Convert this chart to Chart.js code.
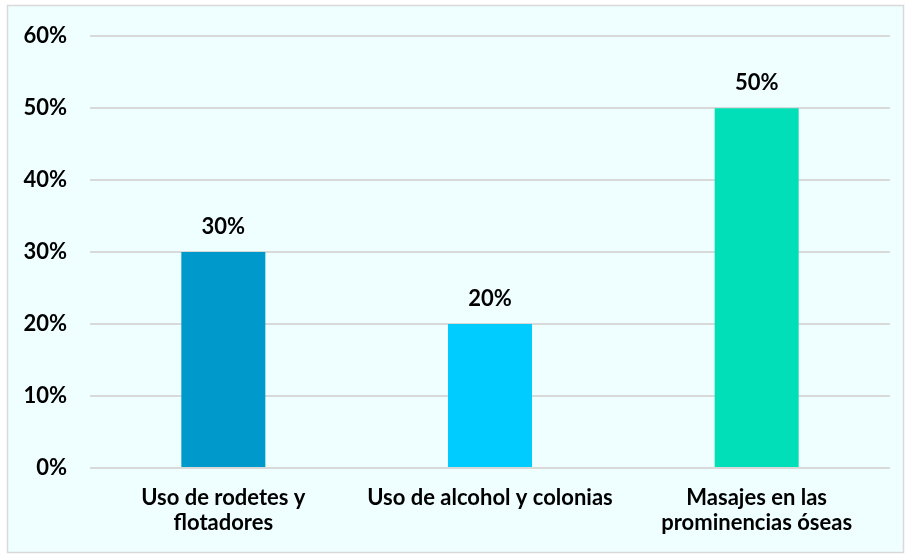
<!DOCTYPE html>
<html>
<head>
<meta charset="utf-8">
<script src="https://cdn.jsdelivr.net/npm/chart.js@4"></script>
<style>
  html, body { margin: 0; padding: 0; background: #ffffff; }
  #wrap { position: absolute; left: 0; top: 0; width: 907px; height: 558px; }
</style>
</head>
<body>
<div id="wrap"><canvas id="chart" width="907" height="558"></canvas></div>
<script>
// Data
const categories = [
    ['Uso de rodetes y', 'flotadores'],
    'Uso de alcohol y colonias',
    ['Masajes en las', 'prominencias óseas']
];
const values = [30, 20, 50];
const barColors = ['#0099CC', '#00CCFF', '#00DFB7'];
const yTicks = [0, 10, 20, 30, 40, 50, 60];

const FONT = 'Lato, "Open Sans", sans-serif';

// background + frame
const framePlugin = {
    id: 'frame',
    beforeDraw(chart) {
        const c = chart.ctx;
        c.save();
        c.fillStyle = '#EFFFFF';
        c.fillRect(7, 5, 897, 548);
        c.strokeStyle = '#D9D9D9';
        c.lineWidth = 1.5;
        c.strokeRect(7.5, 5.5, 896, 547);
        c.restore();
    }
};

// value labels above bars
const valueLabels = {
    id: 'valueLabels',
    afterDatasetsDraw(chart) {
        const c = chart.ctx;
        const meta = chart.getDatasetMeta(0);
        c.save();
        c.font = 'bold 22px ' + FONT;
        c.fillStyle = '#000000';
        c.textAlign = 'center';
        c.textBaseline = 'middle';
        meta.data.forEach((bar, i) => {
            c.fillText(values[i] + '%', bar.x, bar.y - 25);
        });
        c.restore();
    }
};

new Chart(document.getElementById('chart'), {
    type: 'bar',
    data: {
        labels: categories,
        datasets: [{
            data: values,
            backgroundColor: barColors,
            borderWidth: 0,
            barPercentage: 0.315,
            categoryPercentage: 1
        }]
    },
    options: {
        responsive: false,
        animation: false,
        layout: { padding: { left: 8, right: 17, top: 34, bottom: 0 } },
        plugins: {
            legend: { display: false },
            tooltip: { enabled: false }
        },
        scales: {
            x: {
                grid: { display: false, drawTicks: false },
                border: { display: false },
                ticks: {
                    color: '#000000',
                    font: { family: FONT, size: 22, weight: 'bold', lineHeight: 1.15 },
                    padding: 17,
                    maxRotation: 0,
                    autoSkip: false
                },
                afterFit(scale) { scale.height = 90; }
            },
            y: {
                min: 0,
                max: 60,
                afterBuildTicks(scale) {
                    scale.ticks = yTicks.map(v => ({ value: v }));
                },
                grid: { color: '#D9D9D9', lineWidth: 2, drawTicks: false },
                border: { display: false },
                ticks: {
                    color: '#000000',
                    font: { family: FONT, size: 22, weight: 'bold' },
                    padding: 23,
                    callback: v => v + '%'
                },
                afterFit(scale) { scale.width = 82; }
            }
        }
    },
    plugins: [framePlugin, valueLabels]
});
</script>
</body>
</html>
